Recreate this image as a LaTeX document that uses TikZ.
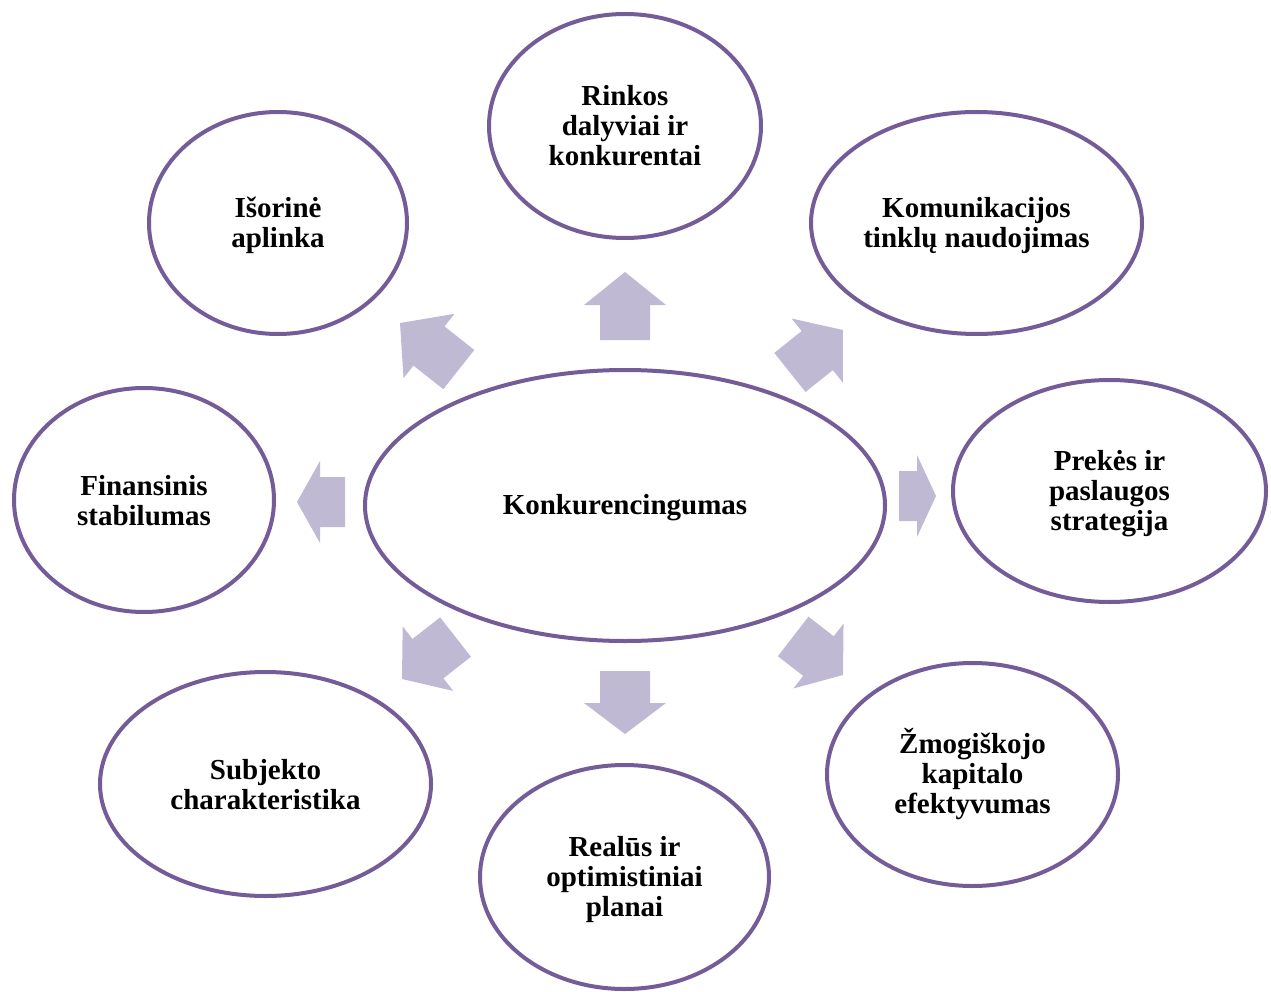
\documentclass[tikz,border=0pt]{standalone}
\usepackage{fontspec}
\setmainfont{Liberation Serif}
\usetikzlibrary{shapes.geometric}
\definecolor{ringpurple}{RGB}{116,92,152}
\definecolor{arrowlilac}{RGB}{192,185,211}
% fixed-height line box so every label centres the same way
\newcommand{\lstrut}{\rule[-5pt]{0pt}{30pt}}
\newcommand{\fixedlines}{\lineskiplimit=-100pt\relax}
\tikzset{
  factor/.style={ellipse, draw=ringpurple, line width=4pt, fill=white,
    inner sep=0pt, align=center,
    font=\fontsize{29}{30}\selectfont\bfseries,
    execute at begin node=\fixedlines},
  pics/blockarrow/.style 2 args={code={
    % tip at the origin, pointing along +x; #1 = total length, #2 = head length
    \fill[arrowlilac] (0,0) -- (-#2,41) -- (-#2,25) -- (-#1,25)
      -- (-#1,-25) -- (-#2,-25) -- (-#2,-41) -- cycle;
  }}
}
\begin{document}
\begin{tikzpicture}[x=1pt,y=-1pt]
\useasboundingbox (0,0) rectangle (1271,992);

% central factor
\node[factor, minimum width=520pt, minimum height=271pt] (core) at (625,505.5) {\lstrut Konkurencingumas};

% surrounding factors
\node[factor, minimum width=272pt, minimum height=224pt] (market) at (625,126) {\lstrut Rinkos\\\lstrut dalyviai ir\\\lstrut konkurentai};
\node[factor, minimum width=258pt, minimum height=222pt] (outer) at (278,223) {\lstrut Išorinė\\\lstrut aplinka};
\node[factor, minimum width=331pt, minimum height=222pt] (network) at (976.5,223) {\lstrut Komunikacijos\\\lstrut tinklų naudojimas};
\node[factor, minimum width=313pt, minimum height=222pt] (goods) at (1109.5,491) {\lstrut Prekės ir\\\lstrut paslaugos\\\lstrut strategija};
\node[factor, minimum width=260pt, minimum height=224pt] (finance) at (144,500) {\lstrut Finansinis\\\lstrut stabilumas};
\node[factor, minimum width=331pt, minimum height=224pt] (subject) at (265.5,784) {\lstrut Subjekto\\\lstrut charakteristika};
\node[factor, minimum width=289pt, minimum height=224pt] (plans) at (624.5,877) {\lstrut Realūs ir\\\lstrut optimistiniai\\\lstrut planai};
\node[factor, minimum width=291pt, minimum height=223pt] (human) at (972.5,774.5) {\lstrut Žmogiškojo\\\lstrut kapitalo\\\lstrut efektyvumas};

% block arrows radiating from the core
\pic[rotate=90]    at (625,272) {blockarrow={68}{33}};
\pic[rotate=-90]   at (625,734) {blockarrow={63}{31}};
\pic[rotate=180]   at (297,502) {blockarrow={48}{23}};
\pic[rotate=0]     at (936,496) {blockarrow={37}{19}};
\pic[rotate=141.6] at (400,323) {blockarrow={75}{37}};
\pic[rotate=38.6]  at (843,330) {blockarrow={68}{33}};
\pic[rotate=218.1] at (402,679) {blockarrow={68}{33}};
\pic[rotate=322.3] at (843,675) {blockarrow={63}{31}};
\end{tikzpicture}
\end{document}
